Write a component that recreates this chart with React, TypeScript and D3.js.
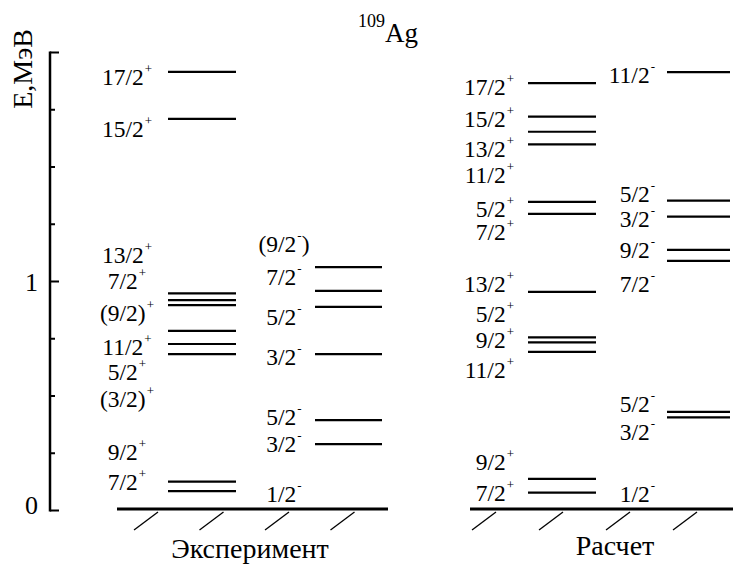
import React from "react";
import * as d3 from "d3";

// ---- data (energies in MeV) ----
const title = { mass: "109", element: "Ag" };
const axisLabel = "E,МэВ";
const tickValues = [0, 0.25, 0.5, 0.75, 1, 1.25, 1.5, 1.75, 2];
const tickLabels: Record<string, string> = { "0": "0", "1": "1" };

// Experiment, positive parity
const expPosSpins = ["17/2^+", "15/2^+", "13/2^+", "7/2^+", "(9/2)^+", "11/2^+", "5/2^+", "(3/2)^+", "9/2^+", "7/2^+"];
const expPosE = [1.915, 1.71, 0.948, 0.919, 0.897, 0.784, 0.727, 0.683, 0.126, 0.085];
const expPosLabelE = [1.858, 1.632, 1.079, 0.967, 0.828, 0.679, 0.57, 0.453, 0.221, 0.09];

// Experiment, negative parity
const expNegSpins = ["(9/2^-)", "7/2^-", "5/2^-", "3/2^-", "5/2^-", "3/2^-", "1/2^-"];
const expNegE = [1.063, 0.959, 0.889, 0.683, 0.395, 0.29, 0];
const expNegLabelE = [1.13, 0.985, 0.81, 0.635, 0.373, 0.255, 0.037];

// Calculation, positive parity
const calcPosSpins = ["17/2^+", "15/2^+", "13/2^+", "11/2^+", "5/2^+", "7/2^+", "13/2^+", "5/2^+", "9/2^+", "11/2^+", "9/2^+", "7/2^+"];
const calcPosE = [1.866, 1.72, 1.654, 1.599, 1.348, 1.295, 0.955, 0.756, 0.734, 0.693, 0.138, 0.078];
const calcPosLabelE = [1.814, 1.675, 1.544, 1.43, 1.282, 1.181, 0.954, 0.823, 0.71, 0.579, 0.177, 0.041];

// Calculation, negative parity
const calcNegSpins = ["11/2^-", "5/2^-", "3/2^-", "9/2^-", "7/2^-", "5/2^-", "3/2^-", "1/2^-"];
const calcNegE = [1.914, 1.353, 1.283, 1.138, 1.09, 0.431, 0.407, 0];
const calcNegLabelE = [1.866, 1.349, 1.239, 1.103, 0.954, 0.431, 0.308, 0.038];

const panelNames = ["Эксперимент", "Расчет"];

// ---- layout ----
const W = 733;
const H = 565;
const FONT = '"Liberation Serif"';
const y = d3.scaleLinear().domain([0, 2]).range([510.5, 52.5]);
const axisX = 50;

type Col = { x0: number; x1: number; lx: number; anchor: "middle" | "end" };
const columns: { spins: string[]; E: number[]; LE: number[]; col: Col }[] = [
  { spins: expPosSpins, E: expPosE, LE: expPosLabelE, col: { x0: 168, x1: 236, lx: 127, anchor: "middle" } },
  { spins: expNegSpins, E: expNegE, LE: expNegLabelE, col: { x0: 315, x1: 382, lx: 284, anchor: "middle" } },
  { spins: calcPosSpins, E: calcPosE, LE: calcPosLabelE, col: { x0: 528, x1: 596, lx: 514, anchor: "end" } },
  { spins: calcNegSpins, E: calcNegE, LE: calcNegLabelE, col: { x0: 667, x1: 730, lx: 655, anchor: "end" } },
];

const grounds = [
  { x0: 117, x1: 388, hatchStart: 134, hatchStep: 65.5, labelX: 250, labelY: 558 },
  { x0: 470, x1: 733, hatchStart: 472, hatchStep: 67, labelX: 615, labelY: 555 },
];

const txt = (size: number): React.CSSProperties => ({ fontFamily: FONT, fontSize: size + "px" });

function SpinLabel({ s, x, yy, anchor }: { s: string; x: number; yy: number; anchor: string }) {
  const i = s.indexOf("^");
  const pre = i >= 0 ? s.slice(0, i) : s;
  const sup = i >= 0 ? s.charAt(i + 1) : "";
  const post = i >= 0 ? s.slice(i + 2) : "";
  return (
    <text x={x} y={yy} textAnchor={anchor} style={txt(23.5)} fill="#000">
      <tspan>{pre}</tspan>
      {sup && (
        <tspan dx={1} dy={-12} style={{ fontSize: "13px" }}>
          {sup}
        </tspan>
      )}
      {post && <tspan dy={12}>{post}</tspan>}
    </text>
  );
}

export default function App() {
  return (
    <svg width={W} height={H} style={{ position: "absolute", left: 0, top: 0, background: "#fff" }}>
      {/* title */}
      <text x={385} y={42} style={txt(27)} fill="#000">
        {title.element}
      </text>
      <text x={385} y={27} textAnchor="end" style={txt(18)} fill="#000">
        {title.mass}
      </text>

      {/* axis label */}
      <text transform={`translate(32, 69) rotate(-90)`} textAnchor="middle" style={txt(28)} fill="#000">
        {axisLabel}
      </text>

      {/* axis */}
      <line x1={axisX} x2={axisX} y1={y(2) - 1} y2={y(0) + 1} stroke="#000" strokeWidth={2.5} />
      {tickValues.map((t) => {
        const major = Math.abs(t - Math.round(t)) < 1e-9;
        return (
          <line key={t} x1={axisX} x2={axisX + (major ? 9 : 5)} y1={y(t)} y2={y(t)} stroke="#000" strokeWidth={2} />
        );
      })}
      {tickValues
        .filter((t) => tickLabels[String(t)] !== undefined)
        .map((t) => (
          <text key={"l" + t} x={38} y={y(t) + (t === 0 ? 3 : 9)} textAnchor="end" style={txt(26)} fill="#000">
            {tickLabels[String(t)]}
          </text>
        ))}

      {/* ground lines with hatching */}
      {grounds.map((g, gi) => (
        <g key={"g" + gi}>
          <line x1={g.x0} x2={g.x1} y1={y(0) - 1.5} y2={y(0) - 1.5} stroke="#000" strokeWidth={3} />
          {[0, 1, 2, 3].map((k) => {
            const hx = g.hatchStart + k * g.hatchStep;
            return <line key={k} x1={hx} y1={530} x2={hx + 24} y2={512} stroke="#000" strokeWidth={1.3} />;
          })}
          <text x={g.labelX} y={g.labelY} textAnchor="middle" style={txt(28)} fill="#000">
            {panelNames[gi]}
          </text>
        </g>
      ))}

      {/* levels */}
      {columns.map((c, ci) => (
        <g key={"c" + ci}>
          {c.E.map((e, i) =>
            e > 0 ? (
              <line key={i} x1={c.col.x0} x2={c.col.x1} y1={y(e)} y2={y(e)} stroke="#000" strokeWidth={2.2} />
            ) : null
          )}
          {c.spins.map((s, i) => (
            <SpinLabel key={"s" + i} s={s} x={c.col.lx} yy={y(c.LE[i])} anchor={c.col.anchor} />
          ))}
        </g>
      ))}
    </svg>
  );
}
